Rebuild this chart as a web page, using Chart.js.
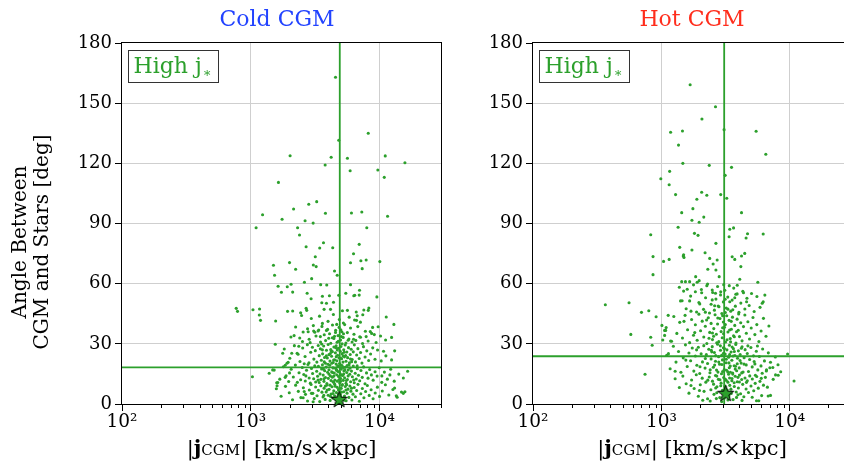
<!DOCTYPE html>
<html>
<head>
<meta charset="utf-8">
<script src="https://cdn.jsdelivr.net/npm/chart.js@4.4.1/dist/chart.umd.min.js"></script>
<style>
  html, body { margin: 0; padding: 0; background: #fff; overflow: hidden; width: 844px; height: 466px; }
  .panel { position: absolute; top: 0; }
</style>
</head>
<body>
<div class="panel" style="left:0"><canvas id="coldCanvas" width="460" height="466" style="width:460px;height:466px"></canvas></div>
<div class="panel" style="left:460px"><canvas id="hotCanvas" width="400" height="466" style="width:400px;height:466px"></canvas></div>
<script>
// ---- data: [ |j_CGM| (km/s x kpc), angle (deg) ] ----
const coldOutliers = [
  [4550,162.9],[8170,135.0],[4820,131.5],[2020,123.8],[4210,123.0],[5630,122.5],[11070,123.7],[15740,120.3],
  [3780,119.2],[5910,116.3],[9700,116.7],[10880,113.0],[1640,110.5],[3250,100.9],[2820,99.6],[2150,97.2],
  [1235,94.4],[3800,95.1],[6050,95.2],[7280,95.7],[11540,93.6],[1750,92.1],[2640,91.4],[3050,90.2],
  [1100,87.9],[2310,87.9],[7960,87.9],[2390,84.3],[3670,80.4],[6950,79.6],[2690,78.4],[3430,77.8],
  [4330,77.9],[6280,74.9],[3170,73.4],[7160,71.4],[7870,71.8],[10050,71.0],[2000,70.5],[5950,70.4],
  [1500,69.2],[3060,69.3],[3220,68.5],[7330,67.5],[2230,67.2],[4470,66.3],[1530,64.2],[4690,64.2],
  [2970,62.5],[2610,60.7],[3490,59.5],[3890,59.3],[5950,59.5],[1630,58.7],[2055,59.7],[1920,58.5],
  [1730,55.7],[2115,55.8],[6990,56.7],[6420,54.2],[6950,54.3],[2740,55.2],[9530,53.4],[3600,53.7],
  [4080,54.0],[4820,54.2],[5470,55.2],[6310,54.0],[2940,52.5],[3560,50.5],[3870,50.2],[4390,50.7],
  [2690,47.7],[2720,46.7],[2440,45.5],[1930,46.2],[2115,46.4],[771,47.7],[789,46.2],[1040,47.0],
  [1170,47.4],[1165,44.4],[1190,41.7],[1560,41.4],[3710,47.2],[4160,47.2],[5150,46.5],[5630,46.7],
  [6590,45.9],[6700,44.0],[6620,41.7],[7410,44.5],[8170,46.7],[8260,47.9],[7550,46.9],[11270,43.4],
  [12920,39.7],[9750,38.5],[10180,33.9],[11140,31.9],[12400,33.2],[8830,38.2],[8470,36.1],[9100,34.6],
  [2170,34.1],[1550,29.8],[2550,35.9],[2790,36.0],[3080,36.4],[3370,36.9],[3870,36.7],[4550,35.7],
  [2400,32.9],[2840,32.3],[3470,33.6],[4030,32.8],[5060,33.6],[5700,31.8],[6280,32.3],[7110,33.3],
  [7870,33.6],[1770,25.3],[2080,25.3],[2330,24.8],[1850,19.3],[1910,20.3],[1480,17.0],[1390,15.3],
  [1850,13.3],[1590,10.6],[1600,9.1],[1030,13.6],[2550,3.1],[2960,5.3],[3050,1.1],[3690,4.3],
  [16520,16.3],[15290,5.3],[15740,6.1],[13490,4.1],[12030,14.5],[13090,8.0],[10420,14.0],[10740,26.3]
];
const coldCore = [
  [2480,44.1],[2950,42.6],[3420,43.8],[3980,41.2],[4380,44.6],[4870,42.1],[5240,40.4],[5810,43.3],[6400,41.9],[7100,40.8],[3600,40.2],[4650,39.7],
  [2230,38.4],[2520,31.2],[2760,37.5],[2890,30.6],[3060,39.1],[3210,33.9],[3330,36.4],[3480,30.9],[3570,38.7],[3720,34.5],
  [3810,31.6],[3950,37.2],[4090,35.0],[4180,30.3],[4310,39.4],[4420,32.7],[4560,36.8],[4680,30.8],[4760,34.1],[4850,38.2],
  [4980,31.9],[5090,36.0],[5220,33.2],[5360,39.6],[5480,30.4],[5620,35.6],[5780,32.4],[5950,37.9],[6120,30.9],[6330,34.8],
  [6540,31.7],[6780,38.6],[7020,33.5],[7380,30.2],[7760,36.3],[8150,31.4],[8680,35.2],[9400,30.7],[2050,33.4],[3140,35.8],
  [4300,33.0],[5000,37.0],
  [1820,27.4],[2010,22.8],[2180,29.1],[2290,25.3],[2410,21.2],[2530,27.9],[2640,23.7],[2750,29.6],[2830,20.6],[2920,25.8],
  [3010,28.3],[3090,22.4],[3170,26.6],[3260,20.9],[3340,29.2],[3400,24.1],[3470,27.5],[3530,21.8],[3610,25.0],[3680,28.9],
  [3740,23.2],[3800,20.3],[3870,26.8],[3930,22.9],[3990,29.7],[4050,24.6],[4120,21.4],[4180,27.2],[4240,23.8],[4300,26.1],
  [4360,20.7],[4420,28.4],[4480,22.1],[4540,25.5],[4600,29.0],[4660,21.6],[4720,24.3],[4780,27.8],[4840,23.0],[4890,20.2],
  [4950,26.3],[5010,28.7],[5070,22.6],[5130,25.1],[5200,20.9],[5270,27.0],[5340,23.5],[5410,29.4],[5490,21.3],[5570,25.9],
  [5650,23.1],[5740,28.1],[5830,20.5],[5920,24.7],[6020,27.3],[6130,22.2],[6250,26.0],[6370,29.5],[6500,21.0],[6640,24.4],
  [6790,27.6],[6950,22.7],[7120,25.7],[7300,20.4],[7500,28.6],[7720,23.4],[7960,26.5],[8230,21.7],[8520,24.9],[8850,28.0],
  [9220,22.3],[9650,26.9],[10300,21.5],[11200,24.0],[12400,22.0],[1950,20.8],[2600,20.1],[3550,29.9],[4150,25.2],[4700,26.9],
  [5450,24.2],[6070,21.1],[2360,28.8],[13100,26.5],[3720,21.0],
  [1520,16.9],[1680,12.4],[1790,18.6],[1880,14.1],[1970,11.2],[2060,17.3],[2140,13.5],[2220,19.4],[2300,10.8],[2370,15.6],
  [2440,12.1],[2510,18.2],[2580,14.7],[2650,11.5],[2710,16.8],[2780,19.7],[2840,13.0],[2900,10.4],[2960,17.7],[3020,15.2],
  [3080,12.6],[3140,19.0],[3190,11.0],[3250,16.3],[3300,13.8],[3350,18.8],[3400,10.7],[3450,15.0],[3500,12.3],[3550,17.5],
  [3600,19.6],[3650,14.4],[3700,11.3],[3750,16.6],[3800,13.2],[3850,18.4],[3900,10.2],[3950,15.8],[4000,12.8],[4050,17.1],
  [4100,19.3],[4150,14.0],[4200,11.7],[4250,16.0],[4300,13.4],[4350,18.0],[4400,10.9],[4450,15.4],[4500,12.0],[4550,17.8],
  [4600,19.9],[4650,14.6],[4700,11.4],[4750,16.2],[4800,13.7],[4850,18.7],[4900,10.5],[4950,15.1],[5000,12.7],[5050,17.4],
  [5110,19.2],[5170,14.2],[5230,11.8],[5290,16.5],[5350,13.1],[5420,18.3],[5490,10.3],[5560,15.7],[5630,12.2],[5710,17.0],
  [5790,19.5],[5870,14.8],[5960,11.1],[6050,16.4],[6150,13.6],[6250,18.9],[6360,10.6],[6470,15.3],[6590,12.5],[6720,17.6],
  [6860,14.3],[7010,11.6],[7170,16.7],[7340,13.3],[7520,18.5],[7710,10.1],[7920,15.5],[8140,12.9],[8380,17.2],[8640,14.5],
  [8920,11.9],[9230,16.1],[9570,13.9],[9940,18.1],[10400,10.8],[10900,15.9],[11500,12.4],[12200,17.3],[13000,11.4],[14100,14.9],
  [15300,13.0],[1620,10.7],[2000,15.5],[2680,14.0],[3330,11.9],[3980,19.8],[4620,16.9],[5260,14.9],[5900,17.9],[6700,19.0],
  [4880,16.1],[4420,13.9],[3680,17.3],[5520,11.7],
  [1580,7.6],[1720,3.9],[1860,8.8],[1990,5.6],[2110,2.1],[2230,9.4],[2340,6.3],[2450,3.2],[2560,8.1],[2660,4.8],
  [2760,1.5],[2850,7.0],[2940,9.7],[3030,5.3],[3110,2.7],[3190,8.5],[3270,4.1],[3350,6.8],[3430,1.2],[3500,9.1],
  [3570,5.9],[3640,3.5],[3710,7.9],[3780,2.3],[3850,6.0],[3920,9.5],[3990,4.4],[4060,7.3],[4130,1.8],[4200,5.0],
  [4270,8.6],[4340,3.0],[4410,6.6],[4480,9.9],[4550,2.5],[4620,5.7],[4690,8.3],[4760,3.7],[4830,6.9],[4900,1.0],
  [4970,4.6],[5040,7.8],[5110,9.3],[5180,2.9],[5260,6.1],[5340,4.0],[5420,8.7],[5500,1.6],[5590,5.4],[5680,7.4],
  [5780,3.3],[5880,9.0],[5990,6.4],[6100,2.0],[6220,4.9],[6350,8.2],[6490,3.6],[6640,6.7],[6800,9.8],[6970,1.4],
  [7150,5.1],[7350,7.7],[7560,3.1],[7790,6.2],[8040,9.2],[8310,4.3],[8600,7.1],[8910,2.6],[9250,5.5],[9620,8.4],
  [10000,3.8],[10500,6.5],[11100,9.6],[11800,4.5],[12700,7.2],[13700,3.4],[14800,6.0],[3800,9.0],[4350,5.2],[5000,3.4],
  [5550,9.6],[6050,7.9],[4750,0.8],[4150,3.9],[5300,1.9],[2600,6.2],
  [4400,21.9],[4520,8.9],[4610,23.6],[4730,19.0],[4810,7.2],[4920,22.9],[5020,14.4],[5150,9.7],[5240,18.2],[5310,25.8],
  [5050,5.9],[4680,2.2],[4480,4.1],[4990,11.3],[5380,16.9],[4260,20.3],[4130,9.4],[4330,15.7],[4570,28.1],[4780,31.3],
  [5120,30.0],[4980,19.6],[4860,12.2],[4640,17.0],[4350,11.1],[5480,7.0],[5700,14.0],[5950,22.4],[3860,24.0],[3700,12.6],
  [3920,7.0],[4040,14.9],[5600,19.2],[6300,12.0],[4210,26.4],[4470,33.8],[5250,35.0],[3600,27.0],[4800,4.9],[5200,23.9]
];

const hotOutliers = [
  [1675,159.2],[2640,148.2],[2070,142.1],[1180,135.5],[1460,136.1],[3080,136.8],[5470,136.0],[1360,129.1],
  [6510,124.5],[1470,120.0],[2360,119.0],[3520,118.0],[1160,116.0],[990,112.3],[3140,114.0],[1150,109.3],
  [1290,104.4],[2060,105.6],[2260,104.1],[2900,104.4],[3230,102.6],[1890,102.1],[1760,97.4],[1440,95.4],
  [4210,95.4],[2140,93.2],[1730,91.6],[1970,90.6],[1350,88.1],[826,84.4],[1810,85.1],[1930,84.1],
  [3410,87.1],[3650,87.8],[3370,83.4],[4690,84.9],[4570,82.8],[6210,84.8],[2660,80.1],[1390,78.1],
  [1730,76.8],[2190,75.4],[4460,75.1],[1490,74.4],[861,73.5],[1040,71.1],[1150,72.1],[1480,73.8],
  [1500,73.1],[2380,72.6],[2720,71.8],[2530,69.8],[2300,67.2],[2660,66.8],[2820,63.5],[4160,68.5],
  [4080,62.2],[3730,72.1],[3560,73.4],[4210,73.8],[861,64.5],[1440,61.0],[1540,61.0],[1660,61.0],
  [1850,63.5],[1900,60.7],[1970,61.5],[5640,60.7],[1490,56.3],[1590,57.2],[1840,56.0],[2060,55.5],
  [2260,59.0],[2490,56.8],[2640,55.2],[3060,59.5],[3140,52.2],[3410,51.0],[3730,53.0],[3800,54.7],
  [4360,55.5],[4610,51.0],[6210,51.0],[6400,54.3],[6100,50.2],[1410,51.4],[1660,51.4],[1990,49.9],
  [2490,51.9],[2770,48.9],[366,49.5],[560,50.5],[700,45.7],[798,46.5],[910,43.5],[578,34.7],
  [826,33.3],[848,29.3],[746,14.8],[1010,39.2],[1060,36.7],[1080,36.7],[1060,34.2],[1025,31.9],
  [1130,44.2],[1200,31.3],[1135,25.1],[9620,24.9],[10800,11.5],[8130,14.3],[7430,12.3],[7750,14.5],
  [6590,17.0],[7000,18.1],[6790,4.0],[7080,4.3],[5510,1.6],[5740,1.6]
];
const hotCore = [
  [1380,58.2],[1560,47.5],[1690,53.8],[1780,59.4],[1880,45.9],[1960,50.6],[2050,57.1],[2130,47.2],[2210,53.0],[2290,59.8],
  [2370,45.4],[2440,49.7],[2510,55.6],[2590,46.8],[2660,52.3],[2740,58.6],[2810,48.5],[2890,54.4],[2960,45.1],[3040,50.9],
  [3120,56.7],[3200,47.9],[3290,53.3],[3380,59.0],[3470,46.3],[3560,51.8],[3660,57.8],[3770,48.8],[3890,54.9],[4020,45.7],
  [4160,50.3],[4310,56.2],[4470,47.4],[4640,52.7],[4830,49.1],[5040,55.1],[5280,46.1],[5550,53.6],[5870,48.2],[1450,51.5],
  [2600,49.0],[3150,45.6],[1700,46.3],[2200,45.8],[3900,59.2],
  [1090,38.1],[1180,31.4],[1250,43.6],[1320,35.2],[1390,40.7],[1460,32.9],[1530,44.2],[1600,37.0],[1660,30.6],[1720,42.1],
  [1780,34.3],[1840,39.5],[1900,31.8],[1960,44.8],[2020,36.5],[2080,41.3],[2140,33.4],[2200,38.8],[2260,30.2],[2320,43.0],
  [2380,35.7],[2440,40.2],[2500,32.1],[2560,37.6],[2620,44.5],[2680,34.8],[2740,39.9],[2800,31.1],[2860,42.6],[2920,36.1],
  [2980,33.0],[3040,40.9],[3100,38.3],[3160,30.9],[3230,44.0],[3300,35.9],[3370,41.7],[3440,32.6],[3510,37.3],[3580,43.3],
  [3650,34.0],[3730,39.2],[3810,30.4],[3890,42.3],[3970,36.8],[4060,33.6],[4150,40.5],[4250,31.5],[4360,38.6],[4470,44.4],
  [4590,35.3],[4720,41.0],[4860,32.4],[5010,37.9],[5170,43.1],[5350,34.6],[5540,39.6],[5750,31.2],[5980,36.4],[6240,42.7],
  [6530,33.8],[6880,38.9],[2700,30.5],[3400,36.9],[2250,41.9],[1820,35.6],[4000,44.9],[3000,38.0],[2550,33.8],[1500,41.2],
  [1100,24.3],[1170,17.6],[1240,28.8],[1300,20.9],[1360,26.2],[1420,15.8],[1480,23.0],[1540,29.5],[1590,18.7],[1640,25.4],
  [1690,21.6],[1740,27.9],[1790,16.4],[1840,23.9],[1890,19.3],[1940,28.3],[1990,15.2],[2040,25.0],[2090,21.0],[2140,29.1],
  [2190,17.9],[2240,24.6],[2290,20.2],[2340,27.3],[2390,15.6],[2440,22.5],[2490,28.6],[2540,18.3],[2590,25.7],[2640,21.3],
  [2690,16.9],[2740,29.8],[2790,23.6],[2840,19.8],[2890,26.8],[2940,15.1],[2990,22.0],[3040,28.0],[3090,17.2],[3140,24.9],
  [3190,20.6],[3240,27.0],[3290,16.0],[3340,23.3],[3390,29.3],[3440,18.9],[3490,25.9],[3540,21.8],[3590,15.4],[3640,27.6],
  [3690,19.1],[3740,24.2],[3800,29.7],[3860,16.6],[3920,22.8],[3980,26.5],[4040,18.0],[4110,24.7],[4180,20.4],[4250,28.5],
  [4330,15.9],[4410,23.1],[4490,27.1],[4580,19.5],[4670,25.2],[4770,16.2],[4870,22.2],[4980,28.2],[5100,18.5],[5220,24.0],
  [5350,20.0],[5490,26.3],[5640,17.0],[5800,23.7],[5970,19.0],[6150,27.4],[6350,21.5],[6570,16.5],[6810,25.5],[7080,20.8],
  [7380,18.2],[7720,23.4],[8100,19.6],[8500,16.1],[1550,21.9],[2000,18.6],[2470,26.0],[2960,19.7],[3360,20.5],[3760,17.4],
  [4220,15.5],[4720,29.0],[5280,21.2],[3050,25.3],[2650,24.1],[3560,28.4],[4400,19.9],[3900,20.1],[2200,22.7],[1880,27.0],
  [5600,28.9],[6100,15.3],[1280,16.3],[3220,16.8],[2760,15.9],
  [1280,12.6],[1380,8.2],[1470,13.9],[1560,10.1],[1640,5.4],[1720,12.0],[1800,7.7],[1870,14.6],[1940,3.9],[2010,9.6],
  [2080,12.9],[2150,6.3],[2220,10.9],[2290,2.6],[2360,13.5],[2430,7.1],[2500,11.4],[2570,4.8],[2640,14.2],[2710,8.6],
  [2780,12.3],[2850,3.2],[2920,10.4],[2990,6.8],[3060,13.2],[3130,8.9],[3200,11.8],[3270,4.5],[3340,14.8],[3410,9.3],
  [3480,7.4],[3550,12.7],[3620,2.2],[3690,10.6],[3760,13.8],[3830,6.0],[3900,11.1],[3980,8.0],[4060,14.4],[4140,5.1],
  [4220,12.2],[4300,9.8],[4390,3.6],[4480,13.0],[4570,7.5],[4670,11.6],[4770,5.7],[4880,14.0],[4990,9.0],[5110,12.5],
  [5240,6.6],[5380,10.3],[5530,13.7],[5690,7.9],[5860,11.3],[6040,4.2],[6240,9.4],[6460,13.3],[6700,8.4],[2400,1.5],
  [2950,1.2],[3300,2.0],[2700,5.6],[3100,3.0],[3500,5.2],[3850,3.3],[4250,1.8],[2100,1.9],[1980,6.7],[2550,9.9],
  [3400,13.0],[4600,10.8],[5100,3.4],[3700,8.7],[2860,12.1],[3250,7.0],[4050,11.0],[1700,9.2],[2300,11.9],[5400,14.3],
  [6000,12.8],[3600,14.9],[2680,2.7],[3950,4.6],
  [2800,20.9],[2900,9.1],[3000,16.2],[3100,27.7],[3200,22.3],[3300,10.9],[3380,18.1],[3460,31.0],[3540,11.6],[3620,23.9],
  [3700,33.5],[3780,18.8],[2700,13.9],[2600,19.4],[2500,35.4],[3150,39.6],[3250,32.0],[2880,29.0],[3080,6.4],[3350,4.3],
  [3450,15.8],[3700,26.2],[3950,13.3],[4100,21.7],[2400,17.1],[2950,24.3],[3050,35.0],[3500,41.2],[2750,42.9],[3300,47.3],
  [2900,56.0],[3600,47.0],[2350,32.8],[4200,27.8],[3850,36.0],[3150,12.3],[2650,8.0],[3400,24.6],[3000,44.0],[2450,26.8]
];

// median lines and the star marker: [cold, hot]
const medianJ = [4910, 3085];
const medianAngle = [18.3, 23.8];
const starJ = [4850, 3170];
const starAngle = [2.3, 5.3];

const panelTitles = ['Cold CGM', 'Hot CGM'];
const panelTitleColors = ['#2243ff', '#ff2d1c'];
const legendLabel = 'High ';

const xMin = 100, xMax = 30000;
const xTickValues = [100,200,300,400,500,600,700,800,900,1000,2000,3000,4000,5000,6000,7000,8000,9000,10000,20000,30000];
const xTickLabels = { 100: '10\u00b2', 1000: '10\u00b3', 10000: '10\u2074' };
const yTickStep = 30;

// ---- style ----
const SERIF = "'DejaVu Serif', serif";
const GREEN = '#2ca02c';
const GRID = '#cfcfcf';
const CLEAR = 'rgba(0,0,0,0)';

function isDecade(v) {
    const l = Math.log10(v);
    return Math.abs(l - Math.round(l)) < 1e-9;
}

function makeStar(size) {
    const c = document.createElement('canvas');
    c.width = size; c.height = size;
    const g = c.getContext('2d');
    const cx = size / 2, cy = size / 2 + 0.5, R = size / 2 - 1, r = R * 0.4;
    g.beginPath();
    for (let i = 0; i < 10; i++) {
        const rad = i % 2 ? r : R;
        const ang = -Math.PI / 2 + i * Math.PI / 5;
        g.lineTo(cx + rad * Math.cos(ang), cy + rad * Math.sin(ang));
    }
    g.closePath();
    g.fillStyle = GREEN;
    g.fill();
    g.strokeStyle = '#000';
    g.lineWidth = 1;
    g.stroke();
    return c;
}
const starImage = makeStar(19);

// ---- frame, minor ticks, titles and the little legend box ----
const panelDecor = {
    id: 'panelDecor',
    beforeDatasetsDraw(chart) {
        const { ctx, chartArea: a } = chart;
        ctx.save();
        ctx.strokeStyle = '#000';
        ctx.lineWidth = 1;
        ctx.strokeRect(a.left - 0.5, a.top - 0.5, a.right - a.left + 1, a.bottom - a.top + 1);
        // minor ticks on the log axis
        const xs = chart.scales.x;
        ctx.beginPath();
        xTickValues.filter(v => !isDecade(v)).forEach(v => {
            const px = Math.round(xs.getPixelForValue(v)) + 0.5;
            ctx.moveTo(px, a.bottom);
            ctx.lineTo(px, a.bottom + 4);
        });
        ctx.stroke();
        ctx.restore();
    },
    afterDraw(chart, args, opts) {
        const { ctx, chartArea: a } = chart;
        const cx = (a.left + a.right) / 2 + (opts.titleShift || 0);
        ctx.save();

        // panel title
        ctx.font = '22px ' + SERIF;
        ctx.fillStyle = opts.titleColor;
        ctx.textAlign = 'center';
        ctx.textBaseline = 'alphabetic';
        ctx.fillText(opts.title, cx, 26);

        // legend box
        const bx = a.left + 6.5, by = a.top + 7.5, bw = 90, bh = 32;
        ctx.fillStyle = 'rgba(255,255,255,0.85)';
        ctx.fillRect(bx, by, bw, bh);
        ctx.strokeStyle = '#333';
        ctx.lineWidth = 1;
        ctx.strokeRect(bx, by, bw, bh);
        ctx.fillStyle = GREEN;
        ctx.textAlign = 'left';
        ctx.font = '22px ' + SERIF;
        let tx = bx + 5;
        const base = a.top + 29.7;
        ctx.fillText(legendLabel, tx, base);
        tx += ctx.measureText(legendLabel).width;
        ctx.fillText('j', tx, base);
        tx += ctx.measureText('j').width + 1;
        ctx.font = '13px ' + SERIF;
        ctx.fillText('\u2217', tx, base + 4);

        // x axis title: |j_CGM| [km/s×kpc]
        const pieces = [
            { t: '|', f: '21px ' + SERIF, dy: 0 },
            { t: 'j', f: 'bold 21px ' + SERIF, dy: 0 },
            { t: 'CGM', f: '15px ' + SERIF, dy: 0 },
            { t: '| [km/s\u00d7kpc]', f: '21px ' + SERIF, dy: 0 }
        ];
        let total = 0;
        pieces.forEach(p => { ctx.font = p.f; p.w = ctx.measureText(p.t).width; total += p.w; });
        let px = (a.left + a.right) / 2 - total / 2;
        ctx.fillStyle = '#000';
        pieces.forEach(p => { ctx.font = p.f; ctx.fillText(p.t, px, 455 + p.dy); px += p.w; });

        // y axis title (left panel only)
        if (opts.yTitle) {
            ctx.font = '20px ' + SERIF;
            ctx.textAlign = 'center';
            ctx.textBaseline = 'middle';
            opts.yTitle.forEach((line, i) => {
                ctx.save();
                ctx.translate(21 + i * 22, 242);
                ctx.rotate(-Math.PI / 2);
                ctx.fillText(line, 0, 0);
                ctx.restore();
            });
        }
        ctx.restore();
    }
};

function makePanel(canvasId, idx, points, yAxisWidth, padRight, yTitle, titleShift) {
    const scatter = points.map(p => ({ x: p[0], y: p[1] }));
    return new Chart(document.getElementById(canvasId), {
        type: 'scatter',
        data: {
            datasets: [
                {
                    data: [{ x: starJ[idx], y: starAngle[idx] }],
                    pointStyle: starImage,
                    pointRadius: 9,
                    clip: false,
                    order: 0
                },
                {
                    data: [{ x: medianJ[idx], y: 0 }, { x: medianJ[idx], y: 180 }],
                    showLine: true,
                    borderColor: GREEN,
                    borderWidth: 1.8,
                    pointRadius: 0,
                    order: 1
                },
                {
                    data: [{ x: xMin, y: medianAngle[idx] }, { x: xMax, y: medianAngle[idx] }],
                    showLine: true,
                    borderColor: GREEN,
                    borderWidth: 1.8,
                    pointRadius: 0,
                    order: 1
                },
                {
                    data: scatter,
                    backgroundColor: GREEN,
                    borderWidth: 0,
                    pointRadius: 1.55,
                    order: 2
                }
            ]
        },
        options: {
            responsive: false,
            animation: false,
            events: [],
            layout: { padding: { left: 0, right: padRight, top: 43, bottom: 0 }, autoPadding: false },
            plugins: {
                legend: { display: false },
                tooltip: { enabled: false },
                panelDecor: { title: panelTitles[idx], titleColor: panelTitleColors[idx], yTitle: yTitle, titleShift: titleShift }
            },
            scales: {
                x: {
                    type: 'logarithmic',
                    min: xMin,
                    max: xMax,
                    afterBuildTicks: s => { s.ticks = xTickValues.map(v => ({ value: v, major: isDecade(v) })); },
                    afterFit: s => { s.height = 62; },
                    border: { display: false },
                    grid: {
                        color: c => (c.tick && isDecade(c.tick.value) && c.tick.value > xMin) ? GRID : CLEAR,
                        tickColor: c => (c.tick && isDecade(c.tick.value)) ? '#000' : CLEAR,
                        tickLength: 7,
                        lineWidth: 1
                    },
                    ticks: {
                        autoSkip: false,
                        maxRotation: 0,
                        padding: 0,
                        color: '#000',
                        font: { family: SERIF, size: 18.5 },
                        callback: v => xTickLabels[v] || ''
                    }
                },
                y: {
                    min: 0,
                    max: 180,
                    afterFit: s => { s.width = yAxisWidth; },
                    border: { display: false },
                    grid: {
                        color: c => (c.tick && c.tick.value > 0 && c.tick.value < 180) ? GRID : CLEAR,
                        tickColor: '#000',
                        tickLength: 7,
                        lineWidth: 1
                    },
                    ticks: {
                        stepSize: yTickStep,
                        padding: 3,
                        color: '#000',
                        font: { family: SERIF, size: 18 }
                    }
                }
            }
        },
        plugins: [panelDecor]
    });
}

makePanel('coldCanvas', 0, coldOutliers.concat(coldCore), 122, 19, ['Angle Between', 'CGM and Stars [deg]'], -4.5);
makePanel('hotCanvas', 1, hotOutliers.concat(hotCore), 73, 9, null, 0);
</script>
</body>
</html>
